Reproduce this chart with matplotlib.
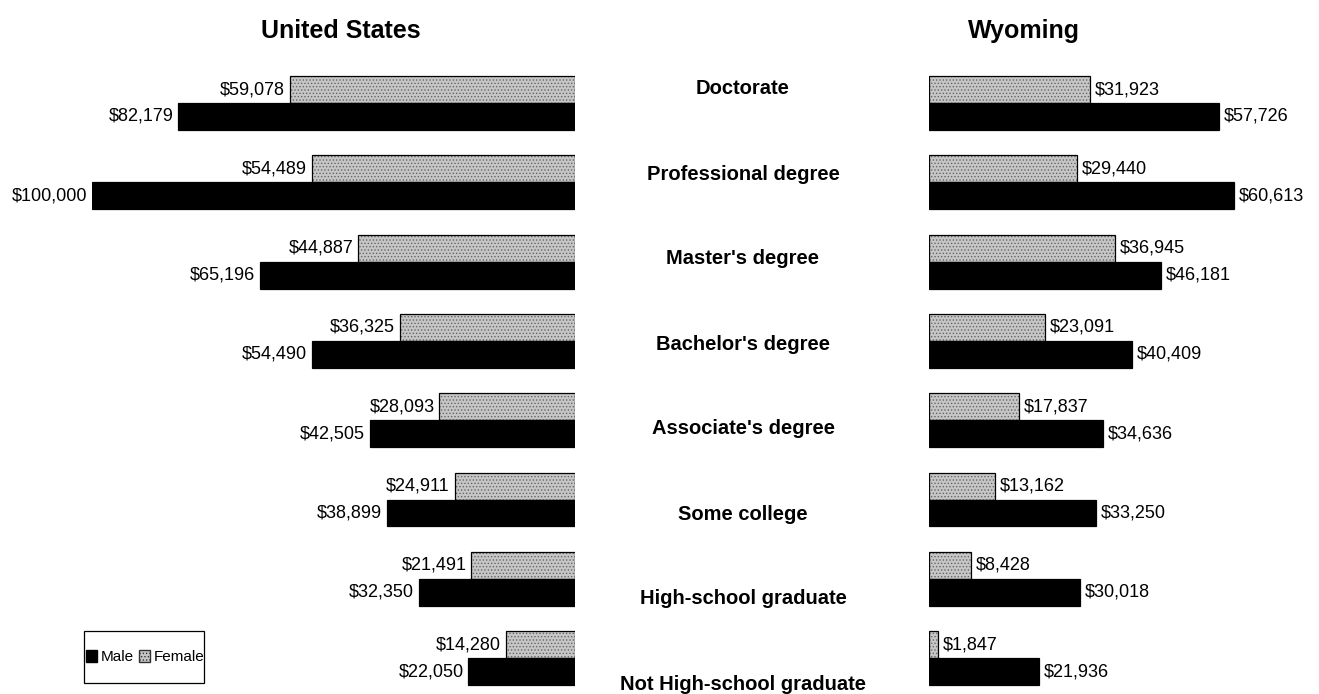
import matplotlib
matplotlib.use("Agg")
import matplotlib.pyplot as plt
from matplotlib.patches import Patch, Rectangle
import numpy as np

plt.rcParams['font.family'] = ['Liberation Sans', 'DejaVu Sans']
plt.rcParams['hatch.linewidth'] = 0.6

categories = ["Doctorate", "Professional degree", "Master's degree", "Bachelor's degree",
              "Associate's degree", "Some college", "High-school graduate",
              "Not High-school graduate"]
us_female = [59078, 54489, 44887, 36325, 28093, 24911, 21491, 14280]
us_male = [82179, 100000, 65196, 54490, 42505, 38899, 32350, 22050]
wy_female = [31923, 29440, 36945, 23091, 17837, 13162, 8428, 1847]
wy_male = [57726, 60613, 46181, 40409, 34636, 33250, 30018, 21936]

W, H = 1319, 694
fig = plt.figure(figsize=(W / 100, H / 100), dpi=100)

def px_axes(x0, x1, ytop, ybot):
    return fig.add_axes([x0 / W, (H - ybot) / H, (x1 - x0) / W, (ybot - ytop) / H])

step = 79.3
y0 = 103 - 0.5 * step
y1 = 103 + 7 * step + 0.4 * step
axL = px_axes(92, 575, y0, y1)
axR = px_axes(929, 929 + 0.00503 * 70000, y0, y1)
axL.set_xlim(100000, 0)
axR.set_xlim(0, 70000)

pos = np.arange(len(categories))
bh = 0.34
female_face = '#c6c6c6'

def fmt(v):
    return "${:,}".format(v)

for ax, fem, mal, side in [(axL, us_female, us_male, 'left'), (axR, wy_female, wy_male, 'right')]:
    ax.set_ylim(7.4, -0.5)
    ax.barh(pos - bh / 2, fem, height=bh, color=female_face, hatch='.....',
            edgecolor='#666666', linewidth=0)
    ax.barh(pos - bh / 2, fem, height=bh, fill=False, edgecolor='black', linewidth=0.9)
    ax.barh(pos + bh / 2, mal, height=bh, color='black', edgecolor='black', linewidth=0.9)
    ha = 'right' if side == 'left' else 'left'
    off = -3.5 if side == 'left' else 3.5
    for i in range(len(categories)):
        ax.annotate(fmt(fem[i]), (fem[i], pos[i] - bh / 2), xytext=(off, 0),
                    textcoords='offset points', ha=ha, va='center', fontsize=13)
        ax.annotate(fmt(mal[i]), (mal[i], pos[i] + bh / 2), xytext=(off, 0),
                    textcoords='offset points', ha=ha, va='center', fontsize=13)
    ax.axis('off')

# middle category labels
axM = px_axes(600, 886, 89 - 42.5, 684 + 42.5)
axM.set_xlim(0, 1)
axM.set_ylim(7.5, -0.5)
for i, c in enumerate(categories):
    axM.text(0.5, i, c, ha='center', va='center', fontsize=14.5, fontweight='bold')
axM.axis('off')

fig.text(341 / W, 1 - 31 / H, "United States", ha='center', va='center',
         fontsize=18, fontweight='bold')
fig.text(1024 / W, 1 - 31 / H, "Wyoming", ha='center', va='center',
         fontsize=18, fontweight='bold')

handles = [Patch(facecolor='black', edgecolor='black'),
           Patch(facecolor=female_face, edgecolor='#333333', hatch='.....')]
leg = fig.legend(handles, ['Male', 'Female'], loc='center',
                 bbox_to_anchor=(145 / W, 1 - 657 / H), ncol=2, fontsize=11,
                 handlelength=0.7, handleheight=0.9, handletextpad=0.25,
                 columnspacing=0.35, borderpad=0, borderaxespad=0, frameon=False)
fig.add_artist(Rectangle((84 / W, 1 - 683 / H), 120 / W, 52 / H, transform=fig.transFigure,
                         fill=False, edgecolor='black', linewidth=0.9))

fig.savefig("out.png", dpi=100)
